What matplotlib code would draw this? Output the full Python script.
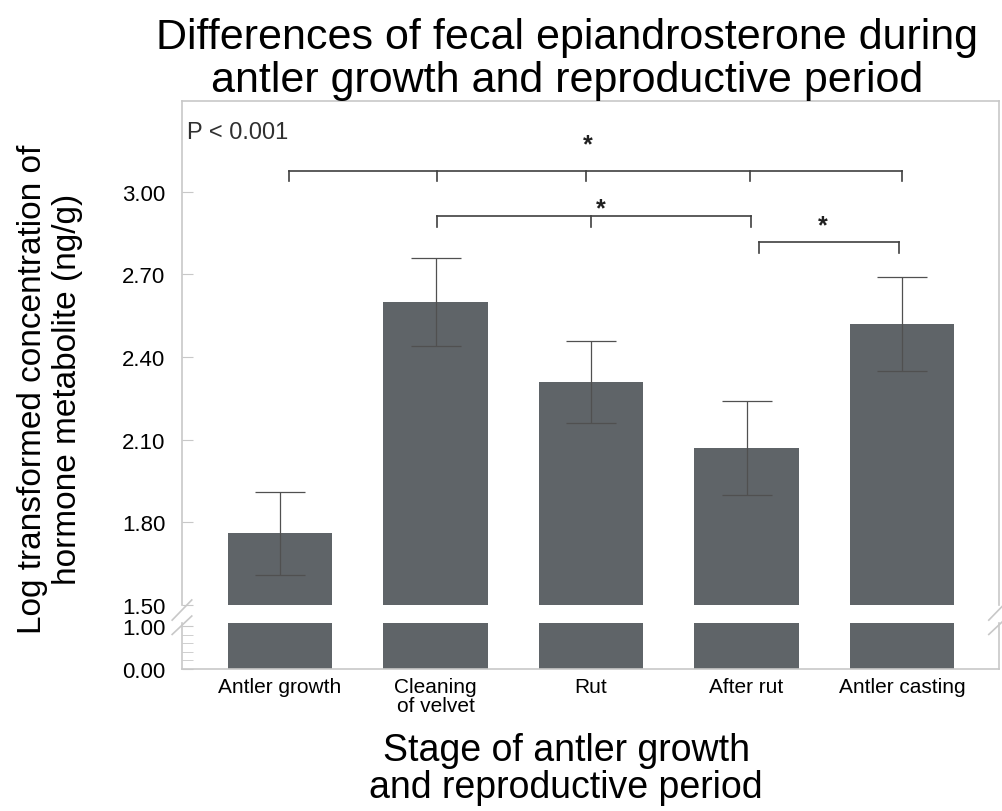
import matplotlib.pyplot as plt
import numpy as np

plt.rcParams['font.family'] = ['Liberation Sans', 'DejaVu Sans']

stages = ["Antler growth", "Cleaning\nof velvet", "Rut", "After rut", "Antler casting"]
means = [1.76, 2.60, 2.31, 2.07, 2.52]
errors = [0.15, 0.16, 0.15, 0.17, 0.17]

bar_color = "#5f6468"
spine_color = "#c8c8c8"

fig = plt.figure(figsize=(10.02, 8.12), dpi=100)
ax_top = fig.add_axes([0.1816, 0.2537, 0.815, 0.6207])
ax_bot = fig.add_axes([0.1816, 0.1749, 0.815, 0.0567])

x = np.arange(len(stages))
width = 0.67

# upper part of broken axis
ax_top.bar(x, means, width=width, color=bar_color, bottom=0)
ax_top.errorbar(x, means, yerr=errors, fmt="none", ecolor="#505050",
                elinewidth=0.9, capsize=18, capthick=0.9)
ax_top.set_ylim(1.5, 3.33)
ax_top.set_xlim(-0.63, 4.62)
ax_top.set_yticks([1.5, 1.8, 2.1, 2.4, 2.7, 3.0])
ax_top.set_yticklabels([f"{v:.2f}" for v in [1.5, 1.8, 2.1, 2.4, 2.7, 3.0]])
ax_top.set_xticks([])
ax_top.spines["bottom"].set_visible(False)

# lower part of broken axis
ax_bot.bar(x, means, width=width, color=bar_color)
ax_bot.set_ylim(0, 1.07)
ax_bot.set_xlim(-0.63, 4.62)
ax_bot.set_yticks([0, 1.0])
ax_bot.set_yticklabels(["0.00", "1.00"])
ax_bot.set_yticks([0.2, 0.4, 0.6, 0.8], minor=True)
ax_bot.set_xticks(x)
ax_bot.set_xticklabels(stages, fontsize=15, va="top", linespacing=1.0)
ax_bot.tick_params(axis="x", length=0, pad=6)
ax_bot.spines["top"].set_visible(False)

for ax in (ax_top, ax_bot):
    for s in ax.spines.values():
        s.set_color(spine_color)
        s.set_linewidth(1.2)
    ax.tick_params(axis="y", direction="in", length=8, color=spine_color,
                   labelsize=16, pad=12)
    ax.tick_params(axis="y", which="minor", direction="in", length=8,
                   color=spine_color)

# break marks
d = 0.012
kw = dict(color=spine_color, lw=1.2, clip_on=False)
for xx in (0, 1):
    ax_top.plot([xx - d, xx + d], [-0.03, 0.01], transform=ax_top.transAxes, **kw)
    ax_bot.plot([xx - d, xx + d], [0.75, 1.15], transform=ax_bot.transAxes, **kw)

# significance brackets
brackets = [
    ([0.06, 1.01, 1.97, 3.02, 4.0], 3.076, 3.04),
    ([1.01, 2.0, 3.03], 2.913, 2.873),
    ([3.08, 3.98], 2.818, 2.778),
]
for xs, top, low in brackets:
    ax_top.plot([xs[0], xs[-1]], [top, top], color="#404040", lw=1.2)
    for xi in xs:
        ax_top.plot([xi, xi], [top, low], color="#404040", lw=1.2)

stars = [(1.98, 3.174), (2.06, 2.94), (3.49, 2.877)]
for sx, sy in stars:
    ax_top.text(sx, sy, "*", ha="center", va="center", fontsize=18,
                fontweight="bold", color="#202020")

ax_top.text(0.006, 3.218, "P < 0.001", transform=ax_top.get_yaxis_transform(),
            fontsize=17, va="center", ha="left", color="#303030")

fig.text(0.566, 0.927, "Differences of fecal epiandrosterone during\nantler growth and reproductive period",
         ha="center", va="center", fontsize=31, linespacing=1.1)
fig.text(0.05, 0.52, "Log transformed concentration of\nhormone metabolite (ng/g)",
         ha="center", va="center", rotation=90, fontsize=24, linespacing=1.15)
fig.text(0.565, 0.052, "Stage of antler growth\nand reproductive period",
         ha="center", va="center", fontsize=27, linespacing=1.05)

fig.savefig("out.png", dpi=100)
